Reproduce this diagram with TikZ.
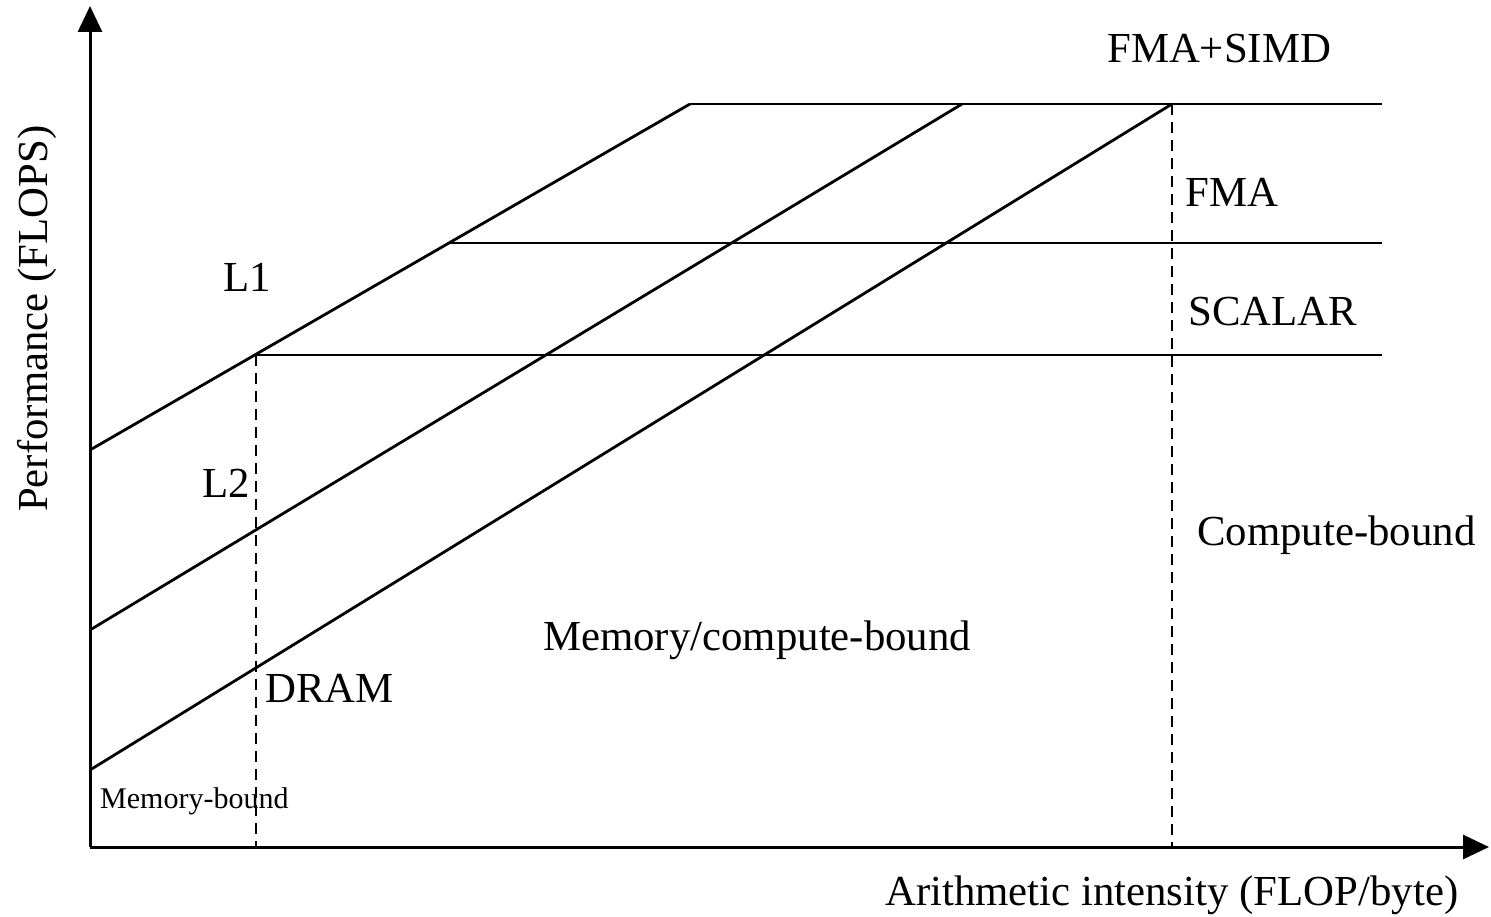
\documentclass[tikz,border=0pt]{standalone}
\usepackage{fontspec}
\setmainfont{Liberation Serif}
\usetikzlibrary{arrows.meta}
\begin{document}
\begin{tikzpicture}[x=1pt,y=-1pt,
  roof/.style={line width=2.8pt},
  axis/.style={line width=3pt,-{Triangle[length=26pt,width=24pt]}},
  ridge/.style={line width=2.8pt,dash pattern=on 11pt off 7pt},
  lbl/.style={anchor=base west,inner sep=0pt,font=\fontsize{42.8}{50}\selectfont},
  small/.style={anchor=base west,inner sep=0pt,font=\fontsize{30}{36}\selectfont}]
\useasboundingbox (0,0) rectangle (1491,917);
% axes
\coordinate (O) at (90,847);
\coordinate (ytop) at (90,6);
\coordinate (xend) at (1489,847);
\draw[axis] (O) -- (ytop);
\draw[axis] (O) -- (xend);
% bandwidth roofs
\coordinate (l1s) at (90,450);
\coordinate (l1e) at (690,104);
\coordinate (l2s) at (90,630);
\coordinate (l2e) at (962,104);
\coordinate (drs) at (90,770);
\coordinate (dre) at (1172,104);
\draw[roof] (l1s) -- (l1e);
\draw[roof] (l2s) -- (l2e);
\draw[roof] (drs) -- (dre);
% compute roofs
\coordinate (topend) at (1382,104);
\coordinate (fmas) at (447,243);
\coordinate (fmae) at (1382,243);
\coordinate (scs) at (256,355);
\coordinate (sce) at (1382,355);
\draw[roof] (l1e) -- (topend);
\draw[roof] (fmas) -- (fmae);
\draw[roof] (scs) -- (sce);
% ridge lines
\coordinate (scb) at (256,847);
\coordinate (drb) at (1172,847);
\draw[ridge] (scs) -- (scb);
\draw[ridge] (dre) -- (drb);
% labels
\node[lbl] (tsimd) at (1107,63) {FMA+SIMD};
\node[lbl] (tfma) at (1185,207) {FMA};
\node[lbl] (tscalar) at (1188,326) {SCALAR};
\node[lbl] (tcomp) at (1197,545) {Compute-bound};
\node[lbl] (tl1) at (223,292) {L1};
\node[lbl] (tl2) at (202,497) {L2};
\node[lbl] (tdram) at (265,702) {DRAM};
\node[lbl] (tmc) at (543,650) {Memory/compute-bound};
\node[small] (tmem) at (100,808) {Memory-bound};
\node[lbl] (txl) at (885,905) {Arithmetic intensity (FLOP/byte)};
\node[lbl,rotate=90] (tyl) at (47,512) {Performance (FLOPS)};
\end{tikzpicture}
\end{document}
